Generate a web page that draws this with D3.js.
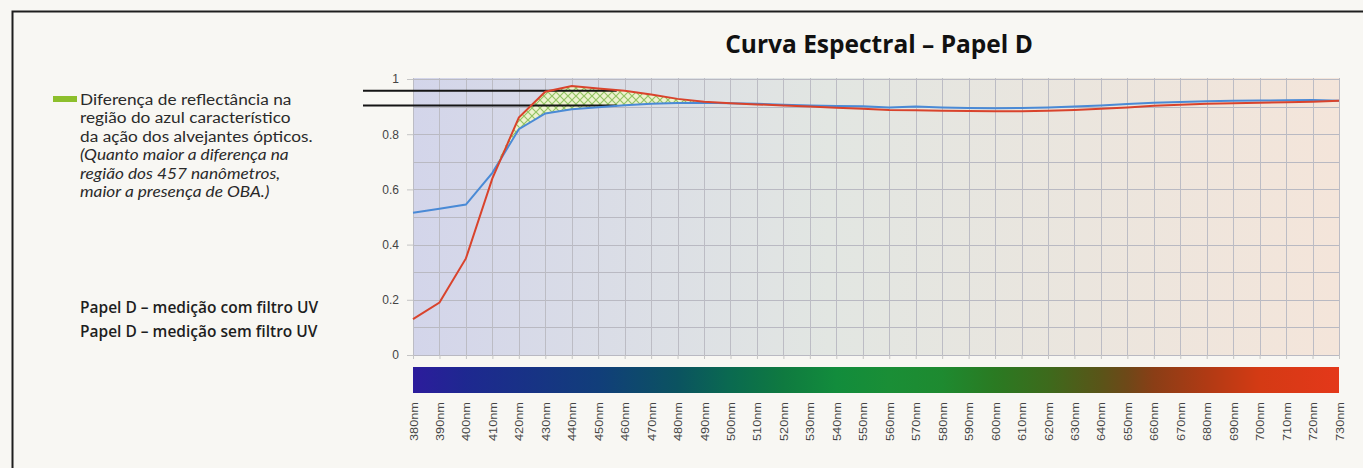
<!DOCTYPE html>
<html>
<head>
<meta charset="utf-8">
<script src="https://cdn.jsdelivr.net/npm/d3@7"></script>
<style>
  body { margin: 0; background: #f8f7f3; }
  svg { display: block; }
</style>
</head>
<body>
<script>
// wavelengths (nm) on the x axis
var wavelengths = [380, 390, 400, 410, 420, 430, 440, 450, 460, 470, 480, 490, 500, 510, 520, 530, 540, 550,
                   560, 570, 580, 590, 600, 610, 620, 630, 640, 650, 660, 670, 680, 690, 700, 710, 720, 730];

// reflectance, measured with UV filter (blue)
var comFiltro = [0.515, 0.530, 0.545, 0.660, 0.818, 0.875, 0.890, 0.898, 0.905, 0.910, 0.913, 0.914,
                 0.912, 0.910, 0.907, 0.904, 0.902, 0.901, 0.897, 0.900, 0.897, 0.895, 0.894, 0.895,
                 0.897, 0.900, 0.904, 0.909, 0.914, 0.917, 0.919, 0.921, 0.922, 0.923, 0.924, 0.921];

// reflectance, measured without UV filter (red)
var semFiltro = [0.130, 0.190, 0.350, 0.640, 0.860, 0.954, 0.975, 0.966, 0.957, 0.944, 0.928, 0.918,
                 0.912, 0.908, 0.904, 0.900, 0.896, 0.892, 0.888, 0.887, 0.885, 0.884, 0.883, 0.883,
                 0.885, 0.888, 0.892, 0.897, 0.903, 0.907, 0.910, 0.912, 0.914, 0.916, 0.918, 0.921];

var yTicks = [0, 0.2, 0.4, 0.6, 0.8, 1];
var yTickLabels = ["0", "0.2", "0.4", "0.6", "0.8", "1"];

// the two reference levels read at 457 nm
var refWavelength = 457;
var refLevels = [0.957, 0.904];

// wavelengths where the difference is hatched
var hatchRange = [410, 490];

// spectrum bar colours
var spectrumNm = [380, 400, 450, 480, 500, 520, 540, 560, 580, 600, 620, 640, 650, 660, 680, 700, 730];
var spectrumColors = ["#2c1c9c", "#1e2890", "#113e7a", "#0b5360", "#0a6a50", "#0f7a40", "#128c3c", "#1a8e36",
                      "#1e8a30", "#2a7a22", "#3d6a1c", "#5a5418", "#6e4818", "#8a3e16", "#b03a14", "#d43a14", "#e4381a"];

var title = "Curva Espectral \u2013 Papel D";
var noteLines = ["Diferença de reflectância na", "região do azul característico", "da ação dos alvejantes ópticos."];
var noteItalic = ["(Quanto maior a diferença na", "região dos 457 nanômetros,", "maior a presença de OBA.)"];
var seriesNames = ["Papel D \u2013 medição com filtro UV", "Papel D \u2013 medição sem filtro UV"];

var W = 1363, H = 468;
var plot = {left: 413, right: 1339, top: 79, bottom: 355};

var data = wavelengths.map(function(w, i) {
  return {nm: w, com: comFiltro[i], sem: semFiltro[i]};
});

var x = d3.scaleLinear().domain([380, 730]).range([plot.left, plot.right]);
var y = d3.scaleLinear().domain([0, 1]).range([plot.bottom, plot.top]);

var svg = d3.select("body").append("svg")
    .attr("width", W)
    .attr("height", H);

var defs = svg.append("defs");

// plot background gradient
var bg = defs.append("linearGradient").attr("id", "bgGrad");
bg.append("stop").attr("offset", "0%").attr("stop-color", "#d3d5ea");
bg.append("stop").attr("offset", "45%").attr("stop-color", "#e2e6e2");
bg.append("stop").attr("offset", "100%").attr("stop-color", "#f4e5da");

// spectrum gradient
var sg = defs.append("linearGradient").attr("id", "specGrad");
spectrumNm.forEach(function(n, i) {
  sg.append("stop")
    .attr("offset", ((n - 380) / 350 * 100) + "%")
    .attr("stop-color", spectrumColors[i]);
});

// cross hatch
var pat = defs.append("pattern")
    .attr("id", "hatch")
    .attr("patternUnits", "userSpaceOnUse")
    .attr("width", 8).attr("height", 8);
pat.append("rect").attr("width", 8).attr("height", 8).attr("fill", "#eef2cf");
pat.append("path").attr("d", "M0,0 L8,8 M8,0 L0,8").attr("stroke", "#93c462").attr("stroke-width", 1.2);

// frame
svg.append("path")
    .attr("d", "M" + W + ",11.5 H12.5 V" + H)
    .attr("fill", "none")
    .attr("stroke", "#1e1e1e")
    .attr("stroke-width", 2);

// plot background
svg.append("rect")
    .attr("x", plot.left).attr("y", plot.top - 1)
    .attr("width", plot.right - plot.left)
    .attr("height", plot.bottom - plot.top + 1)
    .attr("fill", "url(#bgGrad)");

// grid
svg.append("g")
  .selectAll("line")
  .data(y.ticks(10))
  .join("line")
    .attr("x1", plot.left).attr("x2", plot.right)
    .attr("y1", function(d) { return Math.round(y(d)) + 0.5; })
    .attr("y2", function(d) { return Math.round(y(d)) + 0.5; })
    .attr("stroke", "#b9b9c2").attr("stroke-width", 1);

svg.append("g")
  .selectAll("line")
  .data(wavelengths)
  .join("line")
    .attr("x1", function(d) { return Math.round(x(d)) + 0.5; })
    .attr("x2", function(d) { return Math.round(x(d)) + 0.5; })
    .attr("y1", plot.top - 1).attr("y2", plot.bottom)
    .attr("stroke", "#bcbcc4").attr("stroke-width", 1);

// y axis
var yAxis = svg.append("g")
    .attr("transform", "translate(" + plot.left + ",0)")
    .call(d3.axisLeft(y).tickValues(yTicks).tickSize(6).tickPadding(8)
      .tickFormat(function(d, i) { return yTickLabels[i]; }));
yAxis.select(".domain").remove();
yAxis.selectAll("line").attr("stroke", "#c4c4c4");
yAxis.selectAll("text")
    .attr("fill", "#444")
    .style("font-family", "'Liberation Sans', Arial, sans-serif")
    .style("font-size", "12px");

// small ticks under the plot
var xTicks = svg.append("g")
    .attr("transform", "translate(0," + plot.bottom + ")")
    .call(d3.axisBottom(x).tickValues(wavelengths).tickSize(4).tickFormat(""));
xTicks.select(".domain").remove();
xTicks.selectAll("line").attr("stroke", "#c4c4c4");

// hatched difference
var hatchData = data.filter(function(d) { return d.nm >= hatchRange[0] && d.nm <= hatchRange[1]; });
svg.append("path")
  .datum(hatchData)
    .attr("fill", "url(#hatch)")
    .attr("d", d3.area()
      .x(function(d) { return x(d.nm); })
      .y0(function(d) { return y(d.com); })
      .y1(function(d) { return y(Math.max(d.sem, d.com)); }));

// reference lines
svg.append("g")
  .selectAll("line")
  .data(refLevels)
  .join("line")
    .attr("x1", 363).attr("x2", x(refWavelength))
    .attr("y1", function(d) { return y(d); })
    .attr("y2", function(d) { return y(d); })
    .attr("stroke", "#151515").attr("stroke-width", 2);

// curves
var lineCom = d3.line()
    .x(function(d) { return x(d.nm); })
    .y(function(d) { return y(d.com); });
var lineSem = d3.line()
    .x(function(d) { return x(d.nm); })
    .y(function(d) { return y(d.sem); });

svg.append("path")
  .datum(data)
    .attr("fill", "none")
    .attr("stroke", "#4a8ad6")
    .attr("stroke-width", 2)
    .attr("d", lineCom);

svg.append("path")
  .datum(data)
    .attr("fill", "none")
    .attr("stroke", "#d9432c")
    .attr("stroke-width", 2)
    .attr("d", lineSem);

// spectrum bar
svg.append("rect")
    .attr("x", plot.left).attr("y", 367)
    .attr("width", plot.right - plot.left).attr("height", 26)
    .attr("fill", "url(#specGrad)");

// wavelength labels
var xLab = svg.append("g")
    .attr("transform", "translate(0,402)")
    .call(d3.axisBottom(x).tickValues(wavelengths).tickSize(0)
      .tickFormat(function(d) { return d + "nm"; }));
xLab.select(".domain").remove();
xLab.selectAll("text")
    .attr("transform", "rotate(-90)")
    .attr("text-anchor", "end")
    .attr("x", 0).attr("y", 0).attr("dy", "0.35em")
    .attr("textLength", 39)
    .attr("lengthAdjust", "spacingAndGlyphs")
    .attr("fill", "#444")
    .style("font-family", "'Liberation Sans', Arial, sans-serif")
    .style("font-size", "11.5px");

// title
svg.append("text")
    .attr("x", 879).attr("y", 53)
    .attr("text-anchor", "middle")
    .attr("fill", "#111")
    .style("font-family", "'Open Sans', sans-serif")
    .style("font-weight", 700)
    .style("font-size", "24.5px")
    .text(title);

// note with green swatch
svg.append("rect")
    .attr("x", 53).attr("y", 96)
    .attr("width", 24).attr("height", 6)
    .attr("fill", "#8dbf2c");

// text is a bit wide in the original, stretch horizontally
var note = svg.append("g")
    .attr("transform", "translate(80,0) scale(1.15,1)")
    .style("font-family", "Lato, sans-serif")
    .style("font-size", "15px")
    .attr("fill", "#2a2a2a");

note.selectAll("text.n")
  .data(noteLines)
  .join("text")
    .attr("class", "n")
    .attr("x", 0)
    .attr("y", function(d, i) { return 105 + i * 18.4; })
    .text(function(d) { return d; });

note.selectAll("text.it")
  .data(noteItalic)
  .join("text")
    .attr("class", "it")
    .attr("x", 0)
    .attr("y", function(d, i) { return 105 + (i + 3) * 18.4; })
    .style("font-style", "italic")
    .text(function(d) { return d; });

// series names
svg.append("g")
  .selectAll("text")
  .data(seriesNames)
  .join("text")
    .attr("x", 80)
    .attr("y", function(d, i) { return 313 + i * 23.5; })
    .attr("fill", "#1e1e1e")
    .style("font-family", "'Open Sans', sans-serif")
    .style("font-weight", 600)
    .style("font-size", "15.5px")
    .text(function(d) { return d; });
</script>
</body>
</html>
